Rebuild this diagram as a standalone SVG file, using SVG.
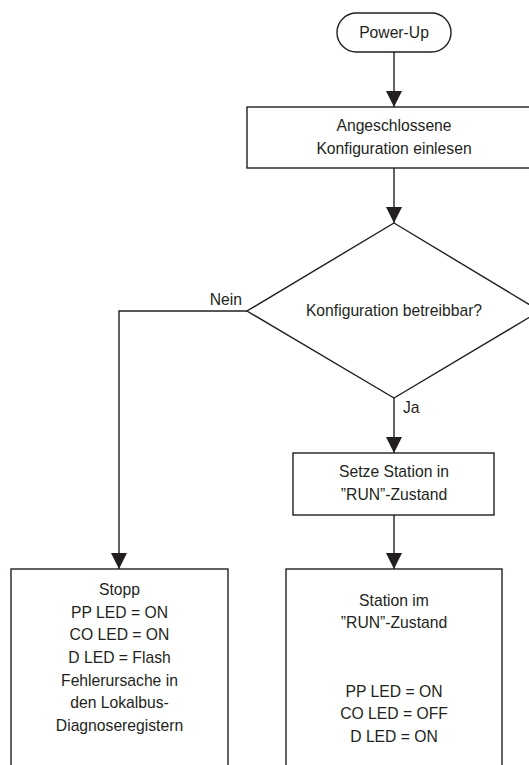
<svg xmlns="http://www.w3.org/2000/svg" width="529" height="765" viewBox="0 0 529 765">
<defs>
<style>
.shape{fill:#fff;stroke:#231f20;stroke-width:1.4}
.conn{fill:none;stroke:#231f20;stroke-width:1.4}
text{font-family:"Liberation Sans",Arial,Helvetica,sans-serif;font-size:15.7px;fill:#231f20;text-anchor:middle}
.lbl{text-anchor:start}
.lblr{text-anchor:end}
</style>
<marker id="arr" markerUnits="userSpaceOnUse" markerWidth="16" markerHeight="16" refX="16" refY="8" orient="auto" viewBox="0 0 16 16">
<path d="M0,0 L16,8 L0,16 z" fill="#231f20"/>
</marker>
</defs>
<rect width="529" height="765" fill="#fff"/>
<g id="connectors">
<line class="conn" x1="394" y1="52" x2="394" y2="107" marker-end="url(#arr)"/>
<line class="conn" x1="394" y1="168" x2="394" y2="223" marker-end="url(#arr)"/>
<polyline class="conn" points="247,311 119,311 119,569" marker-end="url(#arr)"/>
<line class="conn" x1="394" y1="398" x2="394" y2="453" marker-end="url(#arr)"/>
<line class="conn" x1="394" y1="515" x2="394" y2="569" marker-end="url(#arr)"/>
<text class="lblr" x="242" y="305">Nein</text>
<text class="lbl" x="403" y="413">Ja</text>
</g>
<g id="powerup">
<rect class="shape" x="337" y="13" width="114" height="39" rx="19.5"/>
<text x="394" y="38">Power-Up</text>
</g>
<g id="einlesen">
<rect class="shape" x="247" y="107" width="294" height="61"/>
<text x="394" y="131">Angeschlossene</text>
<text x="394" y="154">Konfiguration einlesen</text>
</g>
<g id="decision">
<polygon class="shape" points="394,223 540,311 394,398 247,311"/>
<text x="394" y="316">Konfiguration betreibbar?</text>
</g>
<g id="setze">
<rect class="shape" x="293" y="453" width="201" height="62"/>
<text x="394" y="477">Setze Station in</text>
<text x="394" y="500">”RUN”-Zustand</text>
</g>
<g id="stopp">
<rect class="shape" x="11" y="569" width="217" height="210"/>
<text x="119.5" y="595">Stopp</text>
<text x="119.5" y="618">PP LED = ON</text>
<text x="119.5" y="640">CO LED = ON</text>
<text x="119.5" y="663">D LED = Flash</text>
<text x="119.5" y="686">Fehlerursache in</text>
<text x="119.5" y="708">den Lokalbus-</text>
<text x="119.5" y="731">Diagnoseregistern</text>
</g>
<g id="run">
<rect class="shape" x="286" y="569" width="216" height="210"/>
<text x="394" y="606">Station im</text>
<text x="394" y="628">”RUN”-Zustand</text>
<text x="394" y="697">PP LED = ON</text>
<text x="394" y="719">CO LED = OFF</text>
<text x="394" y="742">D LED = ON</text>
</g>
</svg>
